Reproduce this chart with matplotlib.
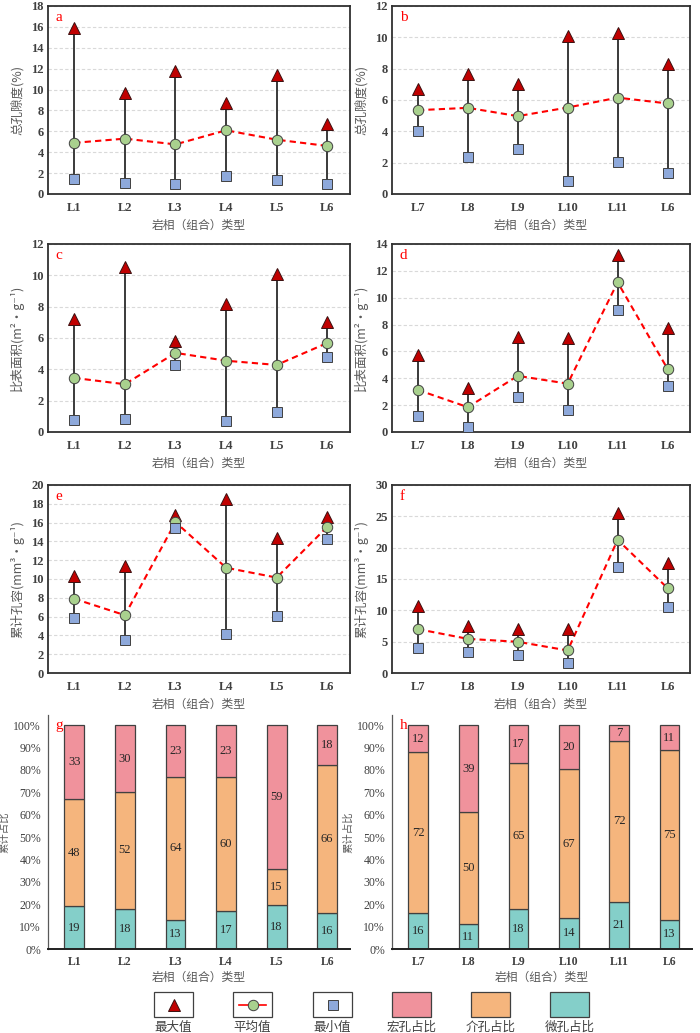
import matplotlib
matplotlib.use("Agg")
import matplotlib.pyplot as plt
from matplotlib.patches import Rectangle
from matplotlib.lines import Line2D

plt.rcParams["font.family"] = ["Liberation Serif", "Noto Sans CJK SC", "DejaVu Sans"]
CJK = ["Noto Sans CJK SC", "DejaVu Sans"]

# --- data ---
cats_left = ["L1", "L2", "L3", "L4", "L5", "L6"]
cats_right = ["L7", "L8", "L9", "L10", "L11", "L6"]

poro_max_l = [15.9, 9.7, 11.75, 8.7, 11.4, 6.7]
poro_mean_l = [4.9, 5.3, 4.75, 6.1, 5.2, 4.6]
poro_min_l = [1.45, 1.1, 1.0, 1.7, 1.35, 0.95]

poro_max_r = [6.7, 7.65, 7.05, 10.1, 10.3, 8.3]
poro_mean_r = [5.35, 5.5, 4.97, 5.52, 6.15, 5.78]
poro_min_r = [4.05, 2.33, 2.87, 0.8, 2.05, 1.35]

ssa_max_l = [7.2, 10.55, 5.8, 8.2, 10.1, 7.05]
ssa_mean_l = [3.45, 3.05, 5.05, 4.55, 4.28, 5.68]
ssa_min_l = [0.77, 0.85, 4.3, 0.72, 1.3, 4.8]

ssa_max_r = [5.7, 3.25, 7.05, 7.02, 13.2, 7.75]
ssa_mean_r = [3.13, 1.85, 4.18, 3.6, 11.15, 4.7]
ssa_min_r = [1.22, 0.35, 2.6, 1.65, 9.1, 3.4]

vol_max_l = [10.3, 11.35, 16.85, 18.55, 14.4, 16.6]
vol_mean_l = [7.9, 6.15, 16.05, 11.2, 10.15, 15.55]
vol_min_l = [5.8, 3.5, 15.45, 4.2, 6.1, 14.3]

vol_max_r = [10.7, 7.5, 7.0, 7.0, 25.5, 17.5]
vol_mean_r = [7.0, 5.45, 4.98, 3.6, 21.25, 13.55]
vol_min_r = [3.95, 3.35, 2.87, 1.65, 16.85, 10.5]

micro_l = [19, 18, 13, 17, 18, 16]
meso_l = [48, 52, 64, 60, 15, 66]
macro_l = [33, 30, 23, 23, 59, 18]

micro_r = [16, 11, 18, 14, 21, 13]
meso_r = [72, 50, 65, 67, 72, 75]
macro_r = [12, 39, 17, 20, 7, 11]

# --- styles ---
C_MAX = "#C00000"
C_MEAN = "#A9D18E"
C_MIN = "#8EA9DB"
C_MACRO = "#F0929C"
C_MESO = "#F5B57D"
C_MICRO = "#84CFC9"
TXT = "#404040"
LAB = "#595959"

W, H = 700, 1033
fig = plt.figure(figsize=(W / 100, H / 100), dpi=100)


def box(left, top, right, bottom):
    return [left / W, 1 - bottom / H, (right - left) / W, (bottom - top) / H]


xlabel = "岩相（组合）类型"


def range_panel(rect, cats, vmax, vmean, vmin, ymax, ystep, ylab, letter):
    ax = fig.add_axes(rect)
    x = list(range(len(cats)))
    for yy in range(ystep, ymax + 1, ystep):
        ax.axhline(yy, color="#D9D9D9", lw=0.8, ls=(0, (3, 2)), zorder=0)
    ax.vlines(x, vmin, vmax, color="#3A3A3A", lw=1.4, zorder=2)
    ax.plot(x, vmean, color="#FF0000", ls=(0, (3, 2)), lw=1.5, zorder=3)
    ax.plot(x, vmax, ls="none", marker="^", ms=8.5, mfc=C_MAX, mec="#3A1010", mew=0.7, zorder=4)
    ax.plot(x, vmean, ls="none", marker="o", ms=7.5, mfc=C_MEAN, mec="#404040", mew=0.7, zorder=5)
    ax.plot(x, vmin, ls="none", marker="s", ms=7, mfc=C_MIN, mec="#404040", mew=0.7, zorder=5)
    ax.set_xlim(-0.52, 5.45)
    ax.set_ylim(0, ymax)
    ax.set_yticks(range(0, ymax + 1, ystep))
    ax.set_xticks(x)
    ax.set_xticklabels(cats)
    ax.tick_params(length=0, labelsize=9, labelcolor=TXT)
    ax.tick_params(axis="x", pad=6)
    ax.tick_params(axis="y", pad=3)
    for t in ax.get_xticklabels() + ax.get_yticklabels():
        t.set_fontweight("bold")
    for s in ax.spines.values():
        s.set_color("#303030")
        s.set_linewidth(1.3)
    ax.set_ylabel(ylab, family=CJK, fontsize=9, color=LAB, labelpad=5)
    ax.set_xlabel(xlabel, family=CJK, fontsize=8.5, color=LAB, labelpad=3)
    ax.text(0.026, 0.94, letter, transform=ax.transAxes, color="red", fontsize=11,
            va="center", ha="left")
    return ax


range_panel(box(48, 6, 350, 194), cats_left, poro_max_l, poro_mean_l, poro_min_l,
            18, 2, "总孔隙度(%)", "a")
range_panel(box(392, 6, 690, 194), cats_right, poro_max_r, poro_mean_r, poro_min_r,
            12, 2, "总孔隙度(%)", "b")
range_panel(box(48, 244, 350, 432), cats_left, ssa_max_l, ssa_mean_l, ssa_min_l,
            12, 2, "比表面积(m²•g⁻¹)", "c")
range_panel(box(392, 244, 690, 432), cats_right, ssa_max_r, ssa_mean_r, ssa_min_r,
            14, 2, "比表面积(m²•g⁻¹)", "d")
range_panel(box(48, 485, 350, 673), cats_left, vol_max_l, vol_mean_l, vol_min_l,
            20, 2, "累计孔容(mm³•g⁻¹)", "e")
range_panel(box(392, 485, 690, 673), cats_right, vol_max_r, vol_mean_r, vol_min_r,
            30, 5, "累计孔容(mm³•g⁻¹)", "f")


def bar_panel(rect, cats, micro, meso, macro, letter):
    ax = fig.add_axes(rect)
    x = list(range(len(cats)))
    tot = [a + b + c for a, b, c in zip(micro, meso, macro)]
    f_mi = [a / t for a, t in zip(micro, tot)]
    f_me = [b / t for b, t in zip(meso, tot)]
    f_ma = [c / t for c, t in zip(macro, tot)]
    base2 = f_mi
    base3 = [a + b for a, b in zip(f_mi, f_me)]
    kw = dict(width=0.39, edgecolor="#404040", linewidth=0.9, zorder=2)
    ax.bar(x, f_mi, color=C_MICRO, **kw)
    ax.bar(x, f_me, bottom=base2, color=C_MESO, **kw)
    ax.bar(x, f_ma, bottom=base3, color=C_MACRO, **kw)
    for i in x:
        ax.text(i, f_mi[i] / 2, str(micro[i]), ha="center", va="center", fontsize=9, color="#262626")
        ax.text(i, base2[i] + f_me[i] / 2, str(meso[i]), ha="center", va="center", fontsize=9, color="#262626")
        ax.text(i, base3[i] + f_ma[i] / 2, str(macro[i]), ha="center", va="center", fontsize=9, color="#262626")
    ax.set_xlim(-0.52, 5.45)
    ax.set_ylim(0, 1.045)
    ax.set_yticks([i / 10 for i in range(11)])
    ax.set_yticklabels([f"{i * 10}%" for i in range(11)])
    ax.set_xticks(x)
    ax.set_xticklabels(cats)
    ax.tick_params(length=0, labelsize=8.5, labelcolor=TXT)
    ax.tick_params(axis="x", pad=5)
    ax.tick_params(axis="y", pad=5)
    for t in ax.get_xticklabels():
        t.set_fontweight("bold")
    ax.spines["top"].set_visible(False)
    ax.spines["right"].set_visible(False)
    ax.spines["left"].set_color("#595959")
    ax.spines["left"].set_linewidth(0.9)
    ax.spines["bottom"].set_color("#202020")
    ax.spines["bottom"].set_linewidth(1.4)
    ax.set_ylabel("累计占比", family=CJK, fontsize=7.5, color=LAB, labelpad=3)
    ax.set_xlabel(xlabel, family=CJK, fontsize=8.5, color=LAB, labelpad=2)
    ax.text(0.026, 0.955, letter, transform=ax.transAxes, color="red", fontsize=11,
            va="center", ha="left")
    return ax


bar_panel(box(48, 715, 350, 949), cats_left, micro_l, meso_l, macro_l, "g")
bar_panel(box(392, 715, 692, 949), cats_right, micro_r, meso_r, macro_r, "h")

# --- legend row ---
lg = fig.add_axes([0, 0, 1, 1 - 985 / H])
lg.set_xlim(0, W)
lg.set_ylim(H, 985)
lg.axis("off")

legend_items = [
    ("最大值", "max"), ("平均值", "mean"), ("最小值", "min"),
    ("宏孔占比", C_MACRO), ("介孔占比", C_MESO), ("微孔占比", C_MICRO),
]
lefts = [154, 233, 313, 392, 471, 550]
for (label, kind), l in zip(legend_items, lefts):
    cx = l + 19.5
    if kind in ("max", "mean", "min"):
        lg.add_patch(Rectangle((l, 992), 39, 25, facecolor="white", edgecolor="#404040", lw=0.9))
        if kind == "max":
            lg.plot([cx], [1004.5], marker="^", ms=8.5, mfc=C_MAX, mec="#3A1010", mew=0.7)
        elif kind == "mean":
            lg.add_line(Line2D([l + 6, l + 33], [1004.5, 1004.5], color="#FF0000", lw=1.2))
            lg.plot([cx], [1004.5], marker="o", ms=7.5, mfc=C_MEAN, mec="#404040", mew=0.7)
        else:
            lg.plot([cx], [1004.5], marker="s", ms=6.5, mfc=C_MIN, mec="#404040", mew=0.7)
    else:
        lg.add_patch(Rectangle((l, 992), 39, 25, facecolor=kind, edgecolor="#404040", lw=0.9))
    lg.text(cx, 1027, label, family=CJK, fontsize=9, color=TXT, ha="center", va="center")

fig.savefig("out.png", dpi=100)
